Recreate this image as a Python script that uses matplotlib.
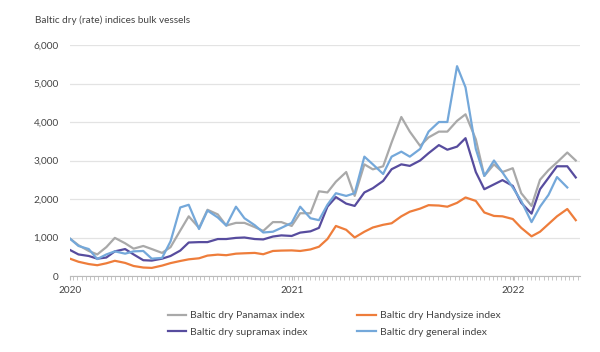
import matplotlib
matplotlib.use("Agg")
import matplotlib.pyplot as plt
import matplotlib.dates as mdates
import numpy as np
import pandas as pd

title = "Baltic dry (rate) indices bulk vessels"
dates = pd.date_range("2020-01-01", "2022-04-16", freq="SMS")

panamax = [970, 800, 650, 560, 750, 990, 850, 710, 780, 700, 600, 750, 1180, 1550,
           1250, 1720, 1600, 1310, 1380, 1380, 1270, 1170, 1400, 1400, 1300, 1630, 1630, 2200,
           2170, 2450, 2700, 2080, 2900, 2770, 2850, 3470, 4130, 3750, 3380, 3600, 3750, 3750,
           4030, 4200, 3550, 2600, 2900, 2700, 2800, 2150, 1820, 2500, 2750, 2950, 3207, 3000]
handysize = [450, 370, 310, 280, 330, 395, 340, 260, 220, 210, 270, 335, 390, 433,
             460, 530, 555, 540, 580, 590, 600, 565, 650, 660, 665, 650, 690, 760,
             960, 1300, 1200, 1000, 1150, 1260, 1330, 1370, 1550, 1670, 1750, 1840, 1830, 1800,
             1900, 2040, 1950, 1650, 1560, 1550, 1480, 1250, 1030, 1150, 1350, 1550, 1740, 1450]
supramax = [676, 560, 520, 450, 480, 640, 700, 560, 410, 400, 450, 520, 660, 870,
            880, 880, 960, 960, 990, 1000, 960, 950, 1025, 1055, 1040, 1127, 1160, 1250,
            1800, 2050, 1880, 1820, 2170, 2280, 2470, 2774, 2900, 2860, 3000, 3190, 3400, 3280,
            3360, 3580, 2700, 2254, 2380, 2490, 2340, 1900, 1620, 2254, 2550, 2850, 2850, 2560]
general = [970, 780, 700, 440, 560, 640, 580, 640, 650, 450, 470, 900, 1780, 1850,
           1220, 1700, 1520, 1310, 1800, 1500, 1320, 1130, 1150, 1250, 1380, 1800, 1500, 1450,
           1850, 2150, 2080, 2150, 3100, 2900, 2650, 3100, 3230, 3100, 3300, 3750, 4000, 4000,
           5450, 4900, 3300, 2600, 3000, 2690, 2297, 1950, 1400, 1800, 2107, 2570, 2300, np.nan]

series = {
    "Baltic dry Panamax index": (panamax, "#A9A9A9"),
    "Baltic dry Handysize index": (handysize, "#EE7D3B"),
    "Baltic dry supramax index": (supramax, "#574C9E"),
    "Baltic dry general index": (general, "#74A8DA"),
}
legend_order = ["Baltic dry Panamax index", "Baltic dry supramax index",
                "Baltic dry Handysize index", "Baltic dry general index"]
yticks = [0, 1000, 2000, 3000, 4000, 5000, 6000]

plt.rcParams['font.family'] = ['Lato', 'DejaVu Sans']
fig = plt.figure(figsize=(6.0, 3.52), dpi=100)
ax = fig.add_axes([70/600, 1-276/352, 510/600, 231/352])

handles = {}
for name, (vals, col) in series.items():
    l, = ax.plot(dates, vals, color=col, lw=1.6, label=name)
    handles[name] = l

ax.set_ylim(0, 6000)
ax.set_yticks(yticks)
ax.set_yticklabels([f"{v:,}" for v in yticks])
ax.set_xlim(pd.Timestamp("2020-01-01"), pd.Timestamp("2022-04-22"))
ax.xaxis.set_major_locator(mdates.YearLocator())
ax.xaxis.set_major_formatter(mdates.DateFormatter("%Y"))
ax.xaxis.set_minor_locator(mdates.WeekdayLocator(byweekday=0))
ax.grid(axis='y', color='#E3E3E3', lw=0.9)
ax.set_axisbelow(True)
for s in ['left', 'right', 'top']:
    ax.spines[s].set_visible(False)
ax.spines['bottom'].set_color('#BBBBBB')
ax.tick_params(axis='y', length=0, pad=8, labelsize=7.2, labelcolor='#444444')
ax.tick_params(axis='x', which='major', length=3, color='#BBBBBB', labelsize=7.2,
               labelcolor='#444444', pad=4)
ax.tick_params(axis='x', which='minor', length=3, color='#BBBBBB')

fig.text(35/600, 1-20/352, title, fontsize=7.2, color='#444444', va='center', ha='left')

fig.legend(handles=[handles[n] for n in legend_order], labels=legend_order,
           loc='center', bbox_to_anchor=(334/600, 1-324/352), ncol=2,
           frameon=False, fontsize=7.5, handlelength=1.8, columnspacing=4.8,
           labelcolor='#444444', handletextpad=0.35, labelspacing=0.7)

fig.savefig("out.png", dpi=100)
